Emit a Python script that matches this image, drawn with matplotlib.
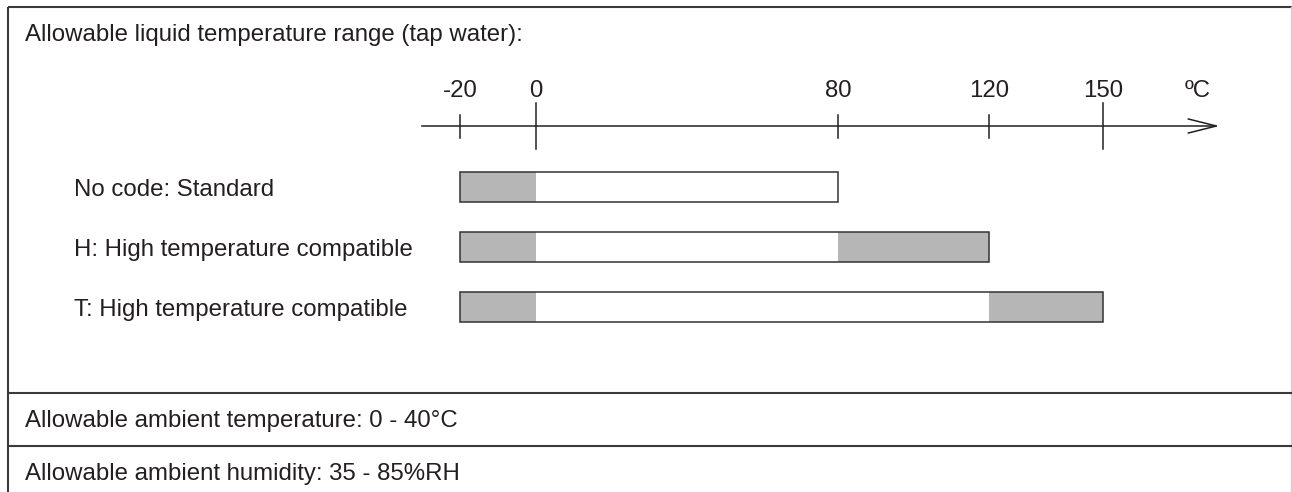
import numpy as np
import matplotlib
matplotlib.use("Agg")
import matplotlib.pyplot as plt

plt.rcParams['font.family'] = ['Liberation Sans', 'DejaVu Sans']

# datos del grafico
title = 'Allowable liquid temperature range (tap water):'
tick_values = [-20, 0, 80, 120, 150]
tick_major = [False, True, False, False, True]
unit_label = 'ºC'
models = ['No code: Standard', 'H: High temperature compatible', 'T: High temperature compatible']
range_min = [-20, -20, -20]
normal_min = [0, 0, 0]
normal_max = [80, 80, 120]
range_max = [80, 120, 150]
footer_lines = ['Allowable ambient temperature: 0 - 40°C',
                'Allowable ambient humidity: 35 - 85%RH']

W, H = 1292, 492
fig = plt.figure(figsize=(W / 100, H / 100), dpi=100)
ax = fig.add_axes([0, 0, 1, 1])
# x en grados, y en pixeles desde arriba
ax.set_xlim(-141.6, 200)
ax.set_ylim(H, 0)
ax.axis('off')

text_color = '#231f20'
line_color = '#3a3a3a'
gray = '#b5b6b5'
fs = 17.3

xt = ax.get_yaxis_transform()  # x en fraccion, y en datos

# marco
ax.plot([8 / W, 1], [7, 7], transform=xt, color=line_color, lw=1.5, solid_capstyle='butt')
ax.plot([8 / W, 8 / W], [7, H], transform=xt, color=line_color, lw=1.5, solid_capstyle='butt')
ax.plot([1291 / W, 1291 / W], [7, H], transform=xt, color='#d0d0d0', lw=1.0)
for yd in [392.5, 446]:
    ax.plot([8 / W, 1], [yd, yd], transform=xt, color=line_color, lw=1.5, solid_capstyle='butt')

ax.text(25 / W, 41, title, transform=xt, fontsize=fs, color=text_color, va='baseline')

# eje de temperatura con flecha
axis_y = 126
ax.plot([-30, 180], [axis_y, axis_y], color='#231f20', lw=1.1)
ax.plot([172.6, 180, 172.6], [axis_y - 7, axis_y, axis_y + 7], color='#231f20', lw=1.1)
for t, major in zip(tick_values, tick_major):
    if major:
        ax.plot([t, t], [103, 149], color='#231f20', lw=1.1)
    else:
        ax.plot([t, t], [115, 138], color='#231f20', lw=1.1)
    ax.text(t, 97, str(t), ha='center', va='baseline', fontsize=fs, color=text_color)
ax.text(175, 97, unit_label, ha='center', va='baseline', fontsize=fs, color=text_color)

# barras
bar_h = 30
for i, name in enumerate(models):
    yc = 187 + 60 * i
    ax.barh(yc, normal_min[i] - range_min[i], left=range_min[i], height=bar_h,
            color=gray, edgecolor='none')
    ax.barh(yc, normal_max[i] - normal_min[i], left=normal_min[i], height=bar_h,
            color='white', edgecolor='none')
    if range_max[i] > normal_max[i]:
        ax.barh(yc, range_max[i] - normal_max[i], left=normal_max[i], height=bar_h,
                color=gray, edgecolor='none')
    ax.barh(yc, range_max[i] - range_min[i], left=range_min[i], height=bar_h,
            color='none', edgecolor='#333333', lw=1.1)
    ax.text(74 / W, yc + 9, name, transform=xt, fontsize=fs, color=text_color, va='baseline')

for yb, line in zip([426.7, 480], footer_lines):
    ax.text(25 / W, yb, line, transform=xt, fontsize=fs, color=text_color, va='baseline')

fig.savefig('out.png', dpi=100)
